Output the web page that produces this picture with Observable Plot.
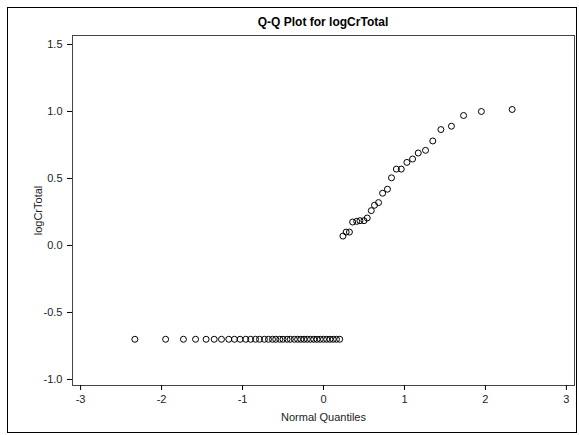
<!DOCTYPE html>
<html>
<head>
<meta charset="utf-8">
<script src="https://cdn.jsdelivr.net/npm/d3@7"></script>
<script src="https://cdn.jsdelivr.net/npm/@observablehq/plot@0.6"></script>
<style>
  body { margin: 0; background: #fff; font-family: "Liberation Sans", Arial, sans-serif; }
  #border { position: absolute; left: 7px; top: 7px; width: 570px; height: 426px; border: 1px solid #000; box-sizing: border-box; z-index: 5; pointer-events: none; }
  #title { position: absolute; left: 72px; width: 502px; top: 15px; text-align: center; font-weight: bold; font-size: 12px; color: #000; }
  #chart { position: absolute; left: 0; top: 30px; }
</style>
</head>
<body>
<div id="title">Q-Q Plot for logCrTotal</div>
<div id="chart"></div>
<div id="border"></div>
<script>
// Normal quantiles (x)
const quantiles = [
  -2.33, -1.95, -1.73, -1.58, -1.45, -1.35, -1.26, -1.17, -1.10, -1.03,
  -0.96, -0.90, -0.84, -0.79, -0.73, -0.68, -0.63, -0.59, -0.54, -0.50,
  -0.45, -0.41, -0.36, -0.32, -0.28, -0.24, -0.20, -0.16, -0.12, -0.08,
  -0.04, 0.00, 0.04, 0.08, 0.12, 0.16, 0.20,
  0.24, 0.28, 0.32, 0.36, 0.41, 0.45, 0.50, 0.54, 0.59, 0.63,
  0.68, 0.73, 0.79, 0.84, 0.90, 0.96, 1.03, 1.10, 1.17, 1.26,
  1.35, 1.45, 1.58, 1.73, 1.95, 2.33
];
// logCrTotal values (y)
const logCrTotal = [
  -0.70, -0.70, -0.70, -0.70, -0.70, -0.70, -0.70, -0.70, -0.70, -0.70,
  -0.70, -0.70, -0.70, -0.70, -0.70, -0.70, -0.70, -0.70, -0.70, -0.70,
  -0.70, -0.70, -0.70, -0.70, -0.70, -0.70, -0.70, -0.70, -0.70, -0.70,
  -0.70, -0.70, -0.70, -0.70, -0.70, -0.70, -0.70,
  0.07, 0.10, 0.10, 0.175, 0.18, 0.185, 0.185, 0.205, 0.26, 0.30,
  0.32, 0.39, 0.42, 0.505, 0.57, 0.57, 0.62, 0.645, 0.69, 0.71,
  0.78, 0.865, 0.89, 0.97, 1.00, 1.015
];
const xTicks = [-3, -2, -1, 0, 1, 2, 3];
const yTicks = [-1.0, -0.5, 0.0, 0.5, 1.0, 1.5];

const data = quantiles.map((q, i) => ({q, v: logCrTotal[i]}));

const chart = Plot.plot({
  width: 579,
  height: 400,
  marginTop: 5,
  marginBottom: 45,
  marginLeft: 72,
  marginRight: 5,
  style: { fontFamily: '"Liberation Sans", Arial, sans-serif', fontSize: "11px", color: "#000", background: "transparent" },
  x: { domain: [-3.1, 3.1] },
  y: { domain: [-1.045, 1.567] },
  marks: [
    Plot.frame({ stroke: "#444" }),
    Plot.axisX({ ticks: xTicks, tickSize: 5, tickPadding: 5, tickFormat: d => String(d), fontSize: 11, fill: "#222",
      label: "Normal Quantiles", labelAnchor: "center", labelArrow: "none", labelOffset: 35 }),
    Plot.axisY({ ticks: yTicks, tickSize: 5, tickPadding: 5, tickFormat: d => d.toFixed(1), fontSize: 11, fill: "#222",
      label: "logCrTotal", labelAnchor: "center", labelArrow: "none", labelOffset: 38 }),
    Plot.dot(data, { x: "q", y: "v", r: 3, stroke: "#000", strokeWidth: 1, fill: "none" })
  ]
});
document.getElementById("chart").appendChild(chart);
</script>
</body>
</html>
